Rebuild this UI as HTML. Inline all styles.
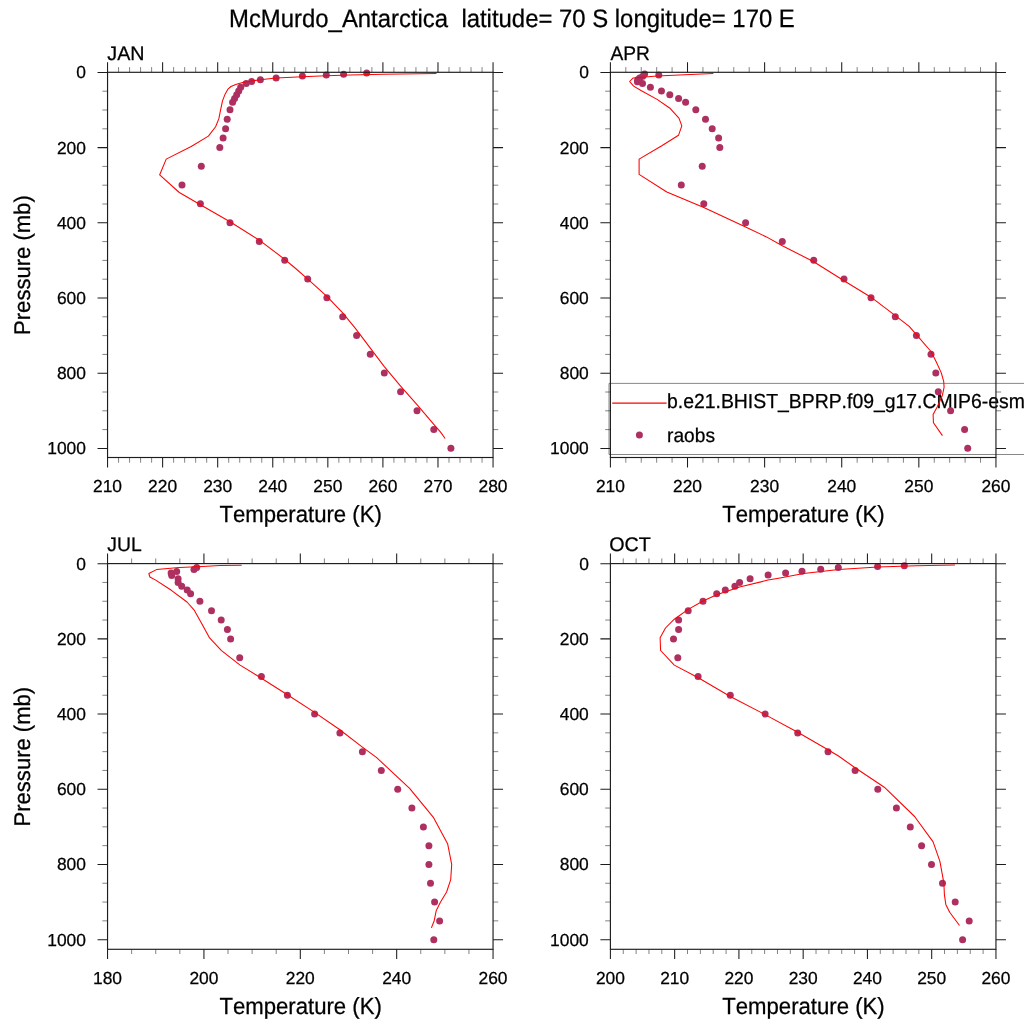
<!DOCTYPE html>
<html><head><meta charset="utf-8"><title>McMurdo_Antarctica</title>
<style>html,body{margin:0;padding:0;background:#fff;}body{width:1024px;height:1024px;overflow:hidden;}svg{display:block;will-change:transform;}text{font-kerning:none;stroke:#000;stroke-width:0.25px;text-rendering:geometricPrecision;font-family:"Liberation Sans",sans-serif;fill:#000;}</style>
</head><body>
<svg width="1024" height="1024" viewBox="0 0 1024 1024">
<rect x="0" y="0" width="1024" height="1024" fill="#ffffff"/>
<text transform="translate(511.9 26.65) scale(1 1.055)" font-size="23.9" text-anchor="middle" xml:space="preserve" style="white-space:pre">McMurdo_Antarctica  latitude= 70 S longitude= 170 E</text>
<g>
<g fill="#AE3061">
<circle cx="366.7" cy="72.95" r="3.5"/>
<circle cx="343.6" cy="74.15" r="3.5"/>
<circle cx="326.3" cy="74.95" r="3.5"/>
<circle cx="302.4" cy="75.95" r="3.5"/>
<circle cx="276.1" cy="77.95" r="3.5"/>
<circle cx="260.4" cy="79.65" r="3.5"/>
<circle cx="251.6" cy="81.55" r="3.5"/>
<circle cx="246.2" cy="83.55" r="3.5"/>
<circle cx="240.7" cy="87.29" r="3.5"/>
<circle cx="238.7" cy="91.05" r="3.5"/>
<circle cx="236.7" cy="94.81" r="3.5"/>
<circle cx="234.6" cy="98.57" r="3.5"/>
<circle cx="232.6" cy="102.33" r="3.5"/>
<circle cx="230" cy="109.85" r="3.5"/>
<circle cx="227.2" cy="119.25" r="3.5"/>
<circle cx="225.6" cy="128.65" r="3.5"/>
<circle cx="223.1" cy="138.05" r="3.5"/>
<circle cx="219.8" cy="147.45" r="3.5"/>
<circle cx="201.3" cy="166.25" r="3.5"/>
<circle cx="182" cy="185.05" r="3.5"/>
<circle cx="200.4" cy="203.85" r="3.5"/>
<circle cx="230" cy="222.65" r="3.5"/>
<circle cx="259.3" cy="241.45" r="3.5"/>
<circle cx="284.7" cy="260.25" r="3.5"/>
<circle cx="307.7" cy="279.05" r="3.5"/>
<circle cx="326.9" cy="297.85" r="3.5"/>
<circle cx="342.7" cy="316.65" r="3.5"/>
<circle cx="356.6" cy="335.45" r="3.5"/>
<circle cx="370.3" cy="354.25" r="3.5"/>
<circle cx="384.3" cy="373.05" r="3.5"/>
<circle cx="400.6" cy="391.85" r="3.5"/>
<circle cx="417" cy="410.65" r="3.5"/>
<circle cx="433.8" cy="429.45" r="3.5"/>
<circle cx="450.9" cy="448.25" r="3.5"/>
</g>
<polyline fill="none" stroke="#FF0000" stroke-width="1.05" stroke-linejoin="round" points="436.45,73.45 383.1,74.2 350.2,74.9 326,75.8 302.5,76.8 276.1,78.1 260.3,79.7 251.7,81 243.5,82.3 235.7,84.5 231,86.5 227.9,89.2 225.2,93.9 222.5,100.9 220.5,110.3 218.8,118.9 215.6,126.7 208.4,136.1 191.2,146.5 166.2,159.1 159.7,174.8 179.3,192.5 200.4,204.7 230,221.8 259.3,240.2 284.7,259.3 294.5,267.5 307.8,279.1 326.9,296.3 342.7,312.9 355.6,328.6 370.3,348.1 384.3,366.6 400.6,386.2 417,404.7 433.8,424.3 440.6,432.1 445.1,438.5"/>
<path d="M118.56 72.3v-5.2M118.56 457.5v5.2M129.58 72.3v-5.2M129.58 457.5v5.2M140.59 72.3v-5.2M140.59 457.5v5.2M151.61 72.3v-5.2M151.61 457.5v5.2M173.64 72.3v-5.2M173.64 457.5v5.2M184.65 72.3v-5.2M184.65 457.5v5.2M195.66 72.3v-5.2M195.66 457.5v5.2M206.68 72.3v-5.2M206.68 457.5v5.2M228.71 72.3v-5.2M228.71 457.5v5.2M239.72 72.3v-5.2M239.72 457.5v5.2M250.74 72.3v-5.2M250.74 457.5v5.2M261.75 72.3v-5.2M261.75 457.5v5.2M283.78 72.3v-5.2M283.78 457.5v5.2M294.79 72.3v-5.2M294.79 457.5v5.2M305.81 72.3v-5.2M305.81 457.5v5.2M316.82 72.3v-5.2M316.82 457.5v5.2M338.85 72.3v-5.2M338.85 457.5v5.2M349.86 72.3v-5.2M349.86 457.5v5.2M360.88 72.3v-5.2M360.88 457.5v5.2M371.89 72.3v-5.2M371.89 457.5v5.2M393.92 72.3v-5.2M393.92 457.5v5.2M404.94 72.3v-5.2M404.94 457.5v5.2M415.95 72.3v-5.2M415.95 457.5v5.2M426.96 72.3v-5.2M426.96 457.5v5.2M448.99 72.3v-5.2M448.99 457.5v5.2M460.01 72.3v-5.2M460.01 457.5v5.2M471.02 72.3v-5.2M471.02 457.5v5.2M482.04 72.3v-5.2M482.04 457.5v5.2M107.55 91.2h-5.2M493.05 91.2h5.2M107.55 110h-5.2M493.05 110h5.2M107.55 128.8h-5.2M493.05 128.8h5.2M107.55 166.4h-5.2M493.05 166.4h5.2M107.55 185.2h-5.2M493.05 185.2h5.2M107.55 204h-5.2M493.05 204h5.2M107.55 241.6h-5.2M493.05 241.6h5.2M107.55 260.4h-5.2M493.05 260.4h5.2M107.55 279.2h-5.2M493.05 279.2h5.2M107.55 316.8h-5.2M493.05 316.8h5.2M107.55 335.6h-5.2M493.05 335.6h5.2M107.55 354.4h-5.2M493.05 354.4h5.2M107.55 392h-5.2M493.05 392h5.2M107.55 410.8h-5.2M493.05 410.8h5.2M107.55 429.6h-5.2M493.05 429.6h5.2" stroke="#1c1c1c" stroke-width="0.55" fill="none"/>
<path d="M107.55 72.3v-10.15M107.55 457.5v10.1M162.62 72.3v-10.15M162.62 457.5v10.1M217.69 72.3v-10.15M217.69 457.5v10.1M272.76 72.3v-10.15M272.76 457.5v10.1M327.84 72.3v-10.15M327.84 457.5v10.1M382.91 72.3v-10.15M382.91 457.5v10.1M437.98 72.3v-10.15M437.98 457.5v10.1M493.05 72.3v-10.15M493.05 457.5v10.1M107.55 72.4h-10M493.05 72.4h10M107.55 147.6h-10M493.05 147.6h10M107.55 222.8h-10M493.05 222.8h10M107.55 298h-10M493.05 298h10M107.55 373.2h-10M493.05 373.2h10M107.55 448.4h-10M493.05 448.4h10" stroke="#1c1c1c" stroke-width="1.05" fill="none"/>
<rect x="107.55" y="72.3" width="385.5" height="385.2" fill="none" stroke="#1c1c1c" stroke-width="1.15"/>
<g font-size="17.4" text-anchor="end">
<text x="85.95" y="78.35">0</text>
<text x="85.95" y="153.55">200</text>
<text x="85.95" y="228.75">400</text>
<text x="85.95" y="303.95">600</text>
<text x="85.95" y="379.15">800</text>
<text x="85.95" y="454.35">1000</text>
</g>
<g font-size="17.4" text-anchor="middle">
<text x="107.55" y="492.45">210</text>
<text x="162.62" y="492.45">220</text>
<text x="217.69" y="492.45">230</text>
<text x="272.76" y="492.45">240</text>
<text x="327.84" y="492.45">250</text>
<text x="382.91" y="492.45">260</text>
<text x="437.98" y="492.45">270</text>
<text x="493.05" y="492.45">280</text>
</g>
<text transform="translate(300.6 522.35) scale(1 1.055)" font-size="22.15" text-anchor="middle">Temperature (K)</text>
<text transform="translate(30.3 265.1) rotate(-90) scale(1 1.03)" font-size="22.05" text-anchor="middle">Pressure (mb)</text>
<text x="107.35" y="60" font-size="19.7">JAN</text>
</g>
<g>
<g>
<path d="M1024 383.4H609V454.5H1024" fill="none" stroke="#7a7a7a" stroke-width="0.9"/>
<line x1="612.2" y1="403.1" x2="666.6" y2="403.1" stroke="#FF0000" stroke-width="1.05"/>
<text transform="translate(667.0 407.5) scale(1 1.045)" font-size="19.4">b.e21.BHIST_BPRP.f09_g17.CMIP6-esm</text>
<circle cx="639.4" cy="435" r="3.5" fill="#AE3061"/>
<text transform="translate(667.1 441.5) scale(1 1.03)" font-size="19.15">raobs</text>
</g>
<g fill="#AE3061">
<circle cx="658.8" cy="74.95" r="3.5"/>
<circle cx="644.6" cy="73.95" r="3.5"/>
<circle cx="642.7" cy="76.35" r="3.5"/>
<circle cx="639.7" cy="77.95" r="3.5"/>
<circle cx="637.7" cy="79.85" r="3.5"/>
<circle cx="637.4" cy="81.75" r="3.5"/>
<circle cx="642.5" cy="83.55" r="3.5"/>
<circle cx="650.4" cy="87.29" r="3.5"/>
<circle cx="661.45" cy="91.05" r="3.5"/>
<circle cx="669.8" cy="94.81" r="3.5"/>
<circle cx="678.6" cy="98.57" r="3.5"/>
<circle cx="685.6" cy="102.33" r="3.5"/>
<circle cx="695.8" cy="109.85" r="3.5"/>
<circle cx="705.5" cy="119.25" r="3.5"/>
<circle cx="712.2" cy="128.65" r="3.5"/>
<circle cx="718.6" cy="138.05" r="3.5"/>
<circle cx="719.8" cy="147.45" r="3.5"/>
<circle cx="702.2" cy="166.25" r="3.5"/>
<circle cx="681.3" cy="185.05" r="3.5"/>
<circle cx="703.8" cy="203.85" r="3.5"/>
<circle cx="745.6" cy="222.65" r="3.5"/>
<circle cx="782.3" cy="241.45" r="3.5"/>
<circle cx="813.7" cy="260.25" r="3.5"/>
<circle cx="844" cy="279.05" r="3.5"/>
<circle cx="871" cy="297.85" r="3.5"/>
<circle cx="895.3" cy="316.65" r="3.5"/>
<circle cx="916.4" cy="335.45" r="3.5"/>
<circle cx="931" cy="354.25" r="3.5"/>
<circle cx="935.8" cy="373.05" r="3.5"/>
<circle cx="938.3" cy="391.85" r="3.5"/>
<circle cx="950.6" cy="410.65" r="3.5"/>
<circle cx="964.6" cy="429.45" r="3.5"/>
<circle cx="967.7" cy="448.25" r="3.5"/>
</g>
<polyline fill="none" stroke="#FF0000" stroke-width="1.05" stroke-linejoin="round" points="713.3,73.6 690.2,74.4 657.1,75.9 633.2,77.9 629.6,81.5 633.6,86.1 641.45,90.8 657.1,99.4 669.6,107.95 678.95,118.1 681.8,125.9 678.5,135.3 661.8,145.8 639.1,159.1 639.1,174.4 666.8,192 703.8,207.6 745.6,227.1 766.45,236.9 782.3,245.7 813.7,261.7 844,280.8 871,297.2 895.3,315.6 909.2,326.4 916.4,334.7 931,351.5 936.2,361.7 941.3,372.9 943.7,381.45 944.1,387.1 942.45,395.2 937.45,406.45 933.1,414.6 933.45,422.7 942.45,435.6"/>
<path d="M625.82 72.3v-5.2M625.82 457.5v5.2M641.24 72.3v-5.2M641.24 457.5v5.2M656.67 72.3v-5.2M656.67 457.5v5.2M672.09 72.3v-5.2M672.09 457.5v5.2M702.93 72.3v-5.2M702.93 457.5v5.2M718.35 72.3v-5.2M718.35 457.5v5.2M733.78 72.3v-5.2M733.78 457.5v5.2M749.2 72.3v-5.2M749.2 457.5v5.2M780.04 72.3v-5.2M780.04 457.5v5.2M795.46 72.3v-5.2M795.46 457.5v5.2M810.89 72.3v-5.2M810.89 457.5v5.2M826.31 72.3v-5.2M826.31 457.5v5.2M857.15 72.3v-5.2M857.15 457.5v5.2M872.57 72.3v-5.2M872.57 457.5v5.2M888 72.3v-5.2M888 457.5v5.2M903.42 72.3v-5.2M903.42 457.5v5.2M934.26 72.3v-5.2M934.26 457.5v5.2M949.68 72.3v-5.2M949.68 457.5v5.2M965.11 72.3v-5.2M965.11 457.5v5.2M980.53 72.3v-5.2M980.53 457.5v5.2M610.4 91.2h-5.2M995.95 91.2h5.2M610.4 110h-5.2M995.95 110h5.2M610.4 128.8h-5.2M995.95 128.8h5.2M610.4 166.4h-5.2M995.95 166.4h5.2M610.4 185.2h-5.2M995.95 185.2h5.2M610.4 204h-5.2M995.95 204h5.2M610.4 241.6h-5.2M995.95 241.6h5.2M610.4 260.4h-5.2M995.95 260.4h5.2M610.4 279.2h-5.2M995.95 279.2h5.2M610.4 316.8h-5.2M995.95 316.8h5.2M610.4 335.6h-5.2M995.95 335.6h5.2M610.4 354.4h-5.2M995.95 354.4h5.2M610.4 392h-5.2M995.95 392h5.2M610.4 410.8h-5.2M995.95 410.8h5.2M610.4 429.6h-5.2M995.95 429.6h5.2" stroke="#1c1c1c" stroke-width="0.55" fill="none"/>
<path d="M610.4 72.3v-10.15M610.4 457.5v10.1M687.51 72.3v-10.15M687.51 457.5v10.1M764.62 72.3v-10.15M764.62 457.5v10.1M841.73 72.3v-10.15M841.73 457.5v10.1M918.84 72.3v-10.15M918.84 457.5v10.1M995.95 72.3v-10.15M995.95 457.5v10.1M610.4 72.4h-10M995.95 72.4h10M610.4 147.6h-10M995.95 147.6h10M610.4 222.8h-10M995.95 222.8h10M610.4 298h-10M995.95 298h10M610.4 373.2h-10M995.95 373.2h10M610.4 448.4h-10M995.95 448.4h10" stroke="#1c1c1c" stroke-width="1.05" fill="none"/>
<rect x="610.4" y="72.3" width="385.55" height="385.2" fill="none" stroke="#1c1c1c" stroke-width="1.15"/>
<g font-size="17.4" text-anchor="end">
<text x="588.8" y="78.35">0</text>
<text x="588.8" y="153.55">200</text>
<text x="588.8" y="228.75">400</text>
<text x="588.8" y="303.95">600</text>
<text x="588.8" y="379.15">800</text>
<text x="588.8" y="454.35">1000</text>
</g>
<g font-size="17.4" text-anchor="middle">
<text x="610.4" y="492.45">210</text>
<text x="687.51" y="492.45">220</text>
<text x="764.62" y="492.45">230</text>
<text x="841.73" y="492.45">240</text>
<text x="918.84" y="492.45">250</text>
<text x="995.95" y="492.45">260</text>
</g>
<text transform="translate(803.47 522.35) scale(1 1.055)" font-size="22.15" text-anchor="middle">Temperature (K)</text>
<text x="610.5" y="60" font-size="19.7" textLength="39.4" lengthAdjust="spacingAndGlyphs">APR</text>
</g>
<g>
<g fill="#AE3061">
<circle cx="196.7" cy="567.6" r="3.5"/>
<circle cx="194" cy="569.6" r="3.5"/>
<circle cx="176.7" cy="571.5" r="3.5"/>
<circle cx="171.1" cy="573.1" r="3.5"/>
<circle cx="171.7" cy="575.5" r="3.5"/>
<circle cx="178.1" cy="578.74" r="3.5"/>
<circle cx="178.1" cy="582.5" r="3.5"/>
<circle cx="181.7" cy="586.26" r="3.5"/>
<circle cx="187.2" cy="590.02" r="3.5"/>
<circle cx="190.6" cy="593.78" r="3.5"/>
<circle cx="199.9" cy="601.3" r="3.5"/>
<circle cx="211.5" cy="610.7" r="3.5"/>
<circle cx="221.2" cy="620.1" r="3.5"/>
<circle cx="227.4" cy="629.5" r="3.5"/>
<circle cx="230.6" cy="638.9" r="3.5"/>
<circle cx="239.7" cy="657.7" r="3.5"/>
<circle cx="261.4" cy="676.5" r="3.5"/>
<circle cx="287.4" cy="695.3" r="3.5"/>
<circle cx="314.6" cy="714.1" r="3.5"/>
<circle cx="339.9" cy="732.9" r="3.5"/>
<circle cx="362.4" cy="751.7" r="3.5"/>
<circle cx="381.3" cy="770.5" r="3.5"/>
<circle cx="397.7" cy="789.3" r="3.5"/>
<circle cx="411.9" cy="808.1" r="3.5"/>
<circle cx="423.4" cy="826.9" r="3.5"/>
<circle cx="428.9" cy="845.7" r="3.5"/>
<circle cx="428.9" cy="864.5" r="3.5"/>
<circle cx="430.5" cy="883.3" r="3.5"/>
<circle cx="434.6" cy="902.1" r="3.5"/>
<circle cx="439.6" cy="920.9" r="3.5"/>
<circle cx="433.8" cy="939.7" r="3.5"/>
</g>
<polyline fill="none" stroke="#FF0000" stroke-width="1.05" stroke-linejoin="round" points="241.7,565.3 220.1,565.6 202.6,566.4 179.2,567.6 156.5,569.6 148.85,573.5 149.9,577 155.7,580.1 171.35,590.3 187,602 194,609.8 201.8,623.85 209.6,637.9 221.5,650.6 240.1,665.1 261.4,678.2 287.4,694.8 314.6,712.4 338.8,729 362.4,747.1 376.4,757.4 409.6,788.3 433.2,817.1 447.6,843.7 451.7,864.3 450.7,879.6 446.6,892 440.4,902.2 436.3,910.4 434.2,920.7 431.4,927.9"/>
<path d="M131.64 563.6v-5.2M131.64 949.3v4.7M155.74 563.6v-5.2M155.74 949.3v4.7M179.83 563.6v-5.2M179.83 949.3v4.7M228.02 563.6v-5.2M228.02 949.3v4.7M252.11 563.6v-5.2M252.11 949.3v4.7M276.21 563.6v-5.2M276.21 949.3v4.7M324.39 563.6v-5.2M324.39 949.3v4.7M348.49 563.6v-5.2M348.49 949.3v4.7M372.58 563.6v-5.2M372.58 949.3v4.7M420.77 563.6v-5.2M420.77 949.3v4.7M444.86 563.6v-5.2M444.86 949.3v4.7M468.96 563.6v-5.2M468.96 949.3v4.7M107.55 582.45h-5.2M493.05 582.45h5.2M107.55 601.25h-5.2M493.05 601.25h5.2M107.55 620.05h-5.2M493.05 620.05h5.2M107.55 657.65h-5.2M493.05 657.65h5.2M107.55 676.45h-5.2M493.05 676.45h5.2M107.55 695.25h-5.2M493.05 695.25h5.2M107.55 732.85h-5.2M493.05 732.85h5.2M107.55 751.65h-5.2M493.05 751.65h5.2M107.55 770.45h-5.2M493.05 770.45h5.2M107.55 808.05h-5.2M493.05 808.05h5.2M107.55 826.85h-5.2M493.05 826.85h5.2M107.55 845.65h-5.2M493.05 845.65h5.2M107.55 883.25h-5.2M493.05 883.25h5.2M107.55 902.05h-5.2M493.05 902.05h5.2M107.55 920.85h-5.2M493.05 920.85h5.2" stroke="#1c1c1c" stroke-width="0.55" fill="none"/>
<path d="M107.55 563.6v-10M107.55 949.3v9.6M203.93 563.6v-10M203.93 949.3v9.6M300.3 563.6v-10M300.3 949.3v9.6M396.68 563.6v-10M396.68 949.3v9.6M493.05 563.6v-10M493.05 949.3v9.6M107.55 563.65h-10M493.05 563.65h10M107.55 638.85h-10M493.05 638.85h10M107.55 714.05h-10M493.05 714.05h10M107.55 789.25h-10M493.05 789.25h10M107.55 864.45h-10M493.05 864.45h10M107.55 939.65h-10M493.05 939.65h10" stroke="#1c1c1c" stroke-width="1.05" fill="none"/>
<rect x="107.55" y="563.6" width="385.5" height="385.7" fill="none" stroke="#1c1c1c" stroke-width="1.15"/>
<g font-size="17.4" text-anchor="end">
<text x="85.95" y="569.6">0</text>
<text x="85.95" y="644.8">200</text>
<text x="85.95" y="720">400</text>
<text x="85.95" y="795.2">600</text>
<text x="85.95" y="870.4">800</text>
<text x="85.95" y="945.6">1000</text>
</g>
<g font-size="17.4" text-anchor="middle">
<text x="107.55" y="983.7">180</text>
<text x="203.93" y="983.7">200</text>
<text x="300.3" y="983.7">220</text>
<text x="396.68" y="983.7">240</text>
<text x="493.05" y="983.7">260</text>
</g>
<text transform="translate(300.6 1013.9) scale(1 1.055)" font-size="22.15" text-anchor="middle">Temperature (K)</text>
<text transform="translate(30.3 756.65) rotate(-90) scale(1 1.03)" font-size="22.05" text-anchor="middle">Pressure (mb)</text>
<text x="107.35" y="551.3" font-size="19.7" textLength="34.4" lengthAdjust="spacingAndGlyphs">JUL</text>
</g>
<g>
<g fill="#AE3061">
<circle cx="904.3" cy="565.7" r="3.5"/>
<circle cx="877.6" cy="566.5" r="3.5"/>
<circle cx="838.3" cy="567.4" r="3.5"/>
<circle cx="820.7" cy="569.2" r="3.5"/>
<circle cx="802" cy="571.3" r="3.5"/>
<circle cx="785.6" cy="573.1" r="3.5"/>
<circle cx="768.1" cy="575.1" r="3.5"/>
<circle cx="750.1" cy="578.74" r="3.5"/>
<circle cx="739.6" cy="582.5" r="3.5"/>
<circle cx="734.9" cy="586.26" r="3.5"/>
<circle cx="725.3" cy="590.02" r="3.5"/>
<circle cx="716.7" cy="593.78" r="3.5"/>
<circle cx="703" cy="601.3" r="3.5"/>
<circle cx="688.2" cy="610.7" r="3.5"/>
<circle cx="678.6" cy="620.1" r="3.5"/>
<circle cx="678.6" cy="629.5" r="3.5"/>
<circle cx="673.5" cy="638.9" r="3.5"/>
<circle cx="677.8" cy="657.7" r="3.5"/>
<circle cx="698.1" cy="676.5" r="3.5"/>
<circle cx="730.3" cy="695.3" r="3.5"/>
<circle cx="765.1" cy="714.1" r="3.5"/>
<circle cx="797.7" cy="732.9" r="3.5"/>
<circle cx="828" cy="751.7" r="3.5"/>
<circle cx="855.1" cy="770.5" r="3.5"/>
<circle cx="877.8" cy="789.3" r="3.5"/>
<circle cx="896.4" cy="808.1" r="3.5"/>
<circle cx="910.3" cy="826.9" r="3.5"/>
<circle cx="921.6" cy="845.7" r="3.5"/>
<circle cx="931.5" cy="864.5" r="3.5"/>
<circle cx="942.5" cy="883.3" r="3.5"/>
<circle cx="955.2" cy="902.1" r="3.5"/>
<circle cx="969.2" cy="920.9" r="3.5"/>
<circle cx="962.6" cy="939.7" r="3.5"/>
</g>
<polyline fill="none" stroke="#FF0000" stroke-width="1.05" stroke-linejoin="round" points="954.9,565.1 916.8,565.7 877.8,567 838.7,569.6 803.5,573.5 780.1,577.9 768.1,580.1 739.6,587 716.7,594.8 703,601 688.2,609.4 674.3,619.2 665.5,628 660.1,637.8 660.6,650.5 674.3,665.1 698.3,677.8 730.3,696.5 765.1,714.6 797.7,732.2 828,749.8 838.5,756 855.1,767.8 884.3,787.2 914.6,816.5 933.1,841.9 939.9,861.4 943.85,882.9 944.4,894.6 945.8,904.4 949.7,912.2 959.5,925.5"/>
<path d="M623.25 563.6v-5.2M623.25 949.3v4.7M636.1 563.6v-5.2M636.1 949.3v4.7M648.95 563.6v-5.2M648.95 949.3v4.7M661.81 563.6v-5.2M661.81 949.3v4.7M687.51 563.6v-5.2M687.51 949.3v4.7M700.36 563.6v-5.2M700.36 949.3v4.7M713.21 563.6v-5.2M713.21 949.3v4.7M726.07 563.6v-5.2M726.07 949.3v4.7M751.77 563.6v-5.2M751.77 949.3v4.7M764.62 563.6v-5.2M764.62 949.3v4.7M777.47 563.6v-5.2M777.47 949.3v4.7M790.32 563.6v-5.2M790.32 949.3v4.7M816.03 563.6v-5.2M816.03 949.3v4.7M828.88 563.6v-5.2M828.88 949.3v4.7M841.73 563.6v-5.2M841.73 949.3v4.7M854.58 563.6v-5.2M854.58 949.3v4.7M880.29 563.6v-5.2M880.29 949.3v4.7M893.14 563.6v-5.2M893.14 949.3v4.7M905.99 563.6v-5.2M905.99 949.3v4.7M918.84 563.6v-5.2M918.84 949.3v4.7M944.54 563.6v-5.2M944.54 949.3v4.7M957.39 563.6v-5.2M957.39 949.3v4.7M970.25 563.6v-5.2M970.25 949.3v4.7M983.1 563.6v-5.2M983.1 949.3v4.7M610.4 582.45h-5.2M995.95 582.45h5.2M610.4 601.25h-5.2M995.95 601.25h5.2M610.4 620.05h-5.2M995.95 620.05h5.2M610.4 657.65h-5.2M995.95 657.65h5.2M610.4 676.45h-5.2M995.95 676.45h5.2M610.4 695.25h-5.2M995.95 695.25h5.2M610.4 732.85h-5.2M995.95 732.85h5.2M610.4 751.65h-5.2M995.95 751.65h5.2M610.4 770.45h-5.2M995.95 770.45h5.2M610.4 808.05h-5.2M995.95 808.05h5.2M610.4 826.85h-5.2M995.95 826.85h5.2M610.4 845.65h-5.2M995.95 845.65h5.2M610.4 883.25h-5.2M995.95 883.25h5.2M610.4 902.05h-5.2M995.95 902.05h5.2M610.4 920.85h-5.2M995.95 920.85h5.2" stroke="#1c1c1c" stroke-width="0.55" fill="none"/>
<path d="M610.4 563.6v-10M610.4 949.3v9.6M674.66 563.6v-10M674.66 949.3v9.6M738.92 563.6v-10M738.92 949.3v9.6M803.17 563.6v-10M803.17 949.3v9.6M867.43 563.6v-10M867.43 949.3v9.6M931.69 563.6v-10M931.69 949.3v9.6M995.95 563.6v-10M995.95 949.3v9.6M610.4 563.65h-10M995.95 563.65h10M610.4 638.85h-10M995.95 638.85h10M610.4 714.05h-10M995.95 714.05h10M610.4 789.25h-10M995.95 789.25h10M610.4 864.45h-10M995.95 864.45h10M610.4 939.65h-10M995.95 939.65h10" stroke="#1c1c1c" stroke-width="1.05" fill="none"/>
<rect x="610.4" y="563.6" width="385.55" height="385.7" fill="none" stroke="#1c1c1c" stroke-width="1.15"/>
<g font-size="17.4" text-anchor="end">
<text x="588.8" y="569.6">0</text>
<text x="588.8" y="644.8">200</text>
<text x="588.8" y="720">400</text>
<text x="588.8" y="795.2">600</text>
<text x="588.8" y="870.4">800</text>
<text x="588.8" y="945.6">1000</text>
</g>
<g font-size="17.4" text-anchor="middle">
<text x="610.4" y="983.7">200</text>
<text x="674.66" y="983.7">210</text>
<text x="738.92" y="983.7">220</text>
<text x="803.17" y="983.7">230</text>
<text x="867.43" y="983.7">240</text>
<text x="931.69" y="983.7">250</text>
<text x="995.95" y="983.7">260</text>
</g>
<text transform="translate(803.47 1013.9) scale(1 1.055)" font-size="22.15" text-anchor="middle">Temperature (K)</text>
<text x="609.3" y="551.3" font-size="19.7">OCT</text>
</g>
</svg>
</body></html>
